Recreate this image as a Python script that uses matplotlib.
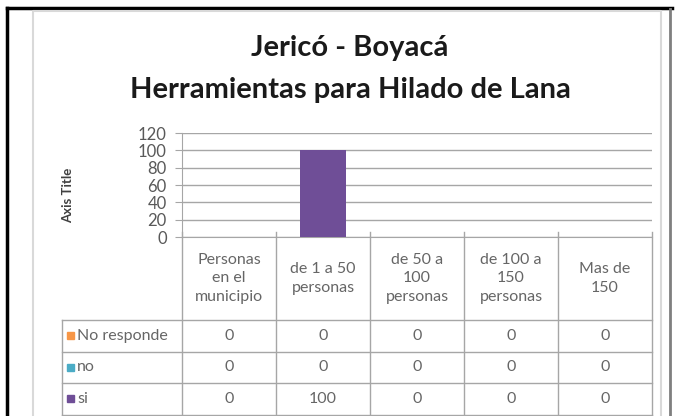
import matplotlib
matplotlib.use("Agg")
import matplotlib.pyplot as plt
import numpy as np

plt.rcParams["font.family"] = ["Lato", "DejaVu Sans"]

# Data
categories = ["Personas\nen el\nmunicipio", "de 1 a 50\npersonas", "de 50 a\n100\npersonas",
              "de 100 a\n150\npersonas", "Mas de\n150"]
series_names = ["No responde", "no", "si"]
no_responde = [0, 0, 0, 0, 0]
no = [0, 0, 0, 0, 0]
si = [0, 100, 0, 0, 0]
series_values = [no_responde, no, si]
series_colors = ["#F79646", "#4BACC6", "#6F4E97"]
yticks = [0, 20, 40, 60, 80, 100, 120]
title_lines = ["Jericó - Boyacá", "Herramientas para Hilado de Lana"]

W, H = 675, 416
fig = plt.figure(figsize=(W / 100, H / 100), dpi=100)

# main plot area (pixel layout -> figure fractions)
left, right, top, bottom = 182, 652, 133, 237
ax = fig.add_axes([left / W, 1 - bottom / H, (right - left) / W, (bottom - top) / H])

x = np.arange(len(categories))
# stacked columns, only "si" has values
base = np.zeros(len(categories))
for name, vals, col in zip(series_names, series_values, series_colors):
    ax.bar(x, vals, width=0.48, bottom=base, color=col, zorder=3)
    base += np.array(vals)

ax.set_xlim(-0.5, len(categories) - 0.5)
ax.set_ylim(0, 120)
ax.set_yticks(yticks)
ax.set_yticklabels([str(t) for t in yticks], fontsize=12, color="#595959")
ax.set_xticks([])
ax.yaxis.grid(True, color="#A6A6A6", linewidth=1, zorder=0)
for s in ["top", "right"]:
    ax.spines[s].set_visible(False)
ax.spines["left"].set_color("#A6A6A6")
ax.spines["bottom"].set_color("#A6A6A6")
ax.tick_params(axis="y", length=5, color="#A6A6A6", pad=6)
ax.set_ylabel("Axis Title", fontsize=9.5, fontweight="bold", color="#404040")
ax.yaxis.set_label_coords(-0.23, 0.40)
ax.set_facecolor("none")

# overlays in pixel coordinates for frame, title and data table
ov = fig.add_axes([0, 0, 1, 1], zorder=-1)
ov.set_xlim(0, W)
ov.set_ylim(H, 0)
ov.axis("off")
ov2 = fig.add_axes([0, 0, 1, 1], zorder=5)
ov2.set_xlim(0, W)
ov2.set_ylim(H, 0)
ov2.axis("off")
ov2.patch.set_alpha(0)

# outer frame
ov.plot([7, 7], [8, H], color="black", lw=2.5)
ov.plot([7, 672], [8, 8], color="black", lw=2.5)
ov.plot([670, 670], [9, H], color="#7F7F7F", lw=2)
# chart area border
ov.plot([33, 33, 661, 661], [H, 11, 11, H], color="#D9D9D9", lw=1.5)

for line, yc in zip(title_lines, [48, 90]):
    ov2.text(350, yc, line, ha="center", va="center", fontsize=21,
             fontweight="bold", color="#1A1A1A")

# data table
ncol = len(categories)
colw = (right - left) / ncol
label_left = 62
header_bottom = 320
row_h = 31.5
tcol = "#A6A6A6"
txt = "#666666"
rows_bottom = header_bottom + row_h * len(series_names)
for i in range(ncol + 1):
    xe = left + i * colw
    ov2.plot([xe, xe], [bottom - 5, rows_bottom], color=tcol, lw=1)
ov2.plot([label_left, label_left], [header_bottom, rows_bottom], color=tcol, lw=1)
for r in range(len(series_names) + 1):
    ye = header_bottom + r * row_h
    ov2.plot([label_left, right], [ye, ye], color=tcol, lw=1)

for i, cat in enumerate(categories):
    ov2.text(left + (i + 0.5) * colw, (bottom + header_bottom) / 2, cat, ha="center",
             va="center", fontsize=11.5, color=txt, linespacing=1.45)

for r, (name, vals, col) in enumerate(zip(series_names, series_values, series_colors)):
    yc = header_bottom + (r + 0.5) * row_h
    ov2.add_patch(plt.Rectangle((67, yc - 3.5), 7, 7, color=col))
    ov2.text(77, yc, name, ha="left", va="center", fontsize=11.5, color=txt)
    for i, v in enumerate(vals):
        ov2.text(left + (i + 0.5) * colw, yc, str(v), ha="center", va="center",
                 fontsize=11.5, color=txt)

fig.savefig("out.png", dpi=100)
